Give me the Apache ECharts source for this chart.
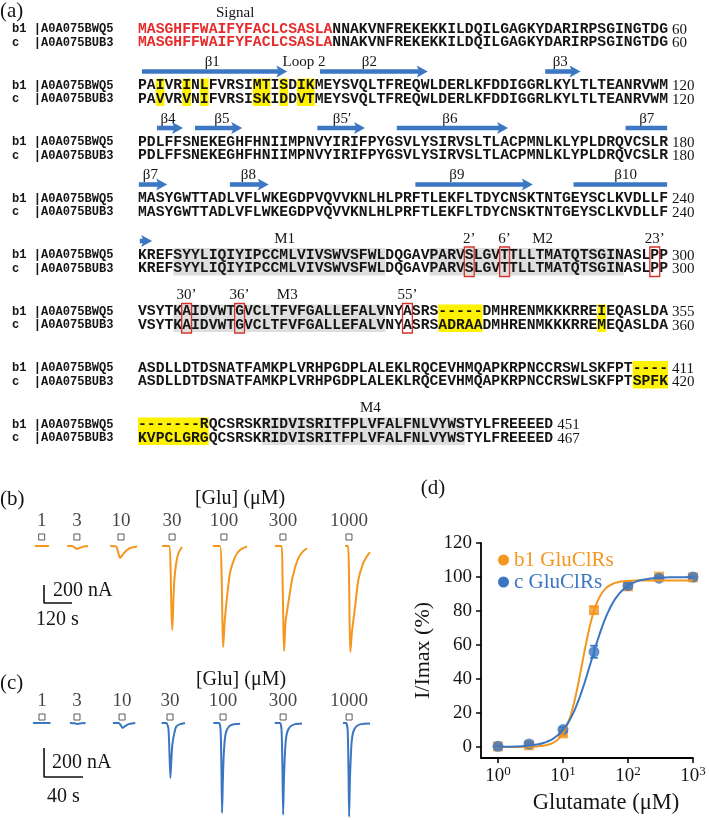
<!DOCTYPE html>
<html><head><meta charset="utf-8">
<script src="https://cdn.jsdelivr.net/npm/echarts@6/dist/echarts.min.js"></script>
<style>html,body{margin:0;padding:0;background:#fff}#c{width:709px;height:820px}</style>
</head><body><div id="c"></div>
<script>
// ---------------- Panel (a): alignment data ----------------
const seqNames = ['b1 |A0A075BWQ5', 'c  |A0A075BUB3'];
const seqB1 = [
 'MASGHFFWAIFYFACLCSASLANNAKVNFREKEKKILDQILGAGKYDARIRPSGINGTDG',
 'PAIVRINLFVRSIMTISDIKMEYSVQLTFREQWLDERLKFDDIGGRLKYLTLTEANRVWM',
 'PDLFFSNEKEGHFHNIIMPNVYIRIFPYGSVLYSIRVSLTLACPMNLKLYPLDRQVCSLR',
 'MASYGWTTADLVFLWKEGDPVQVVKNLHLPRFTLEKFLTDYCNSKTNTGEYSCLKVDLLF',
 'KREFSYYLIQIYIPCCMLVIVSWVSFWLDQGAVPARVSLGVTTLLTMATQTSGINASLPP',
 'VSYTKAIDVWTGVCLTFVFGALLEFALVNYASRS-----DMHRENMKKKRREIEQASLDA',
 'ASDLLDTDSNATFAMKPLVRHPGDPLALEKLRQCEVHMQAPKRPNCCRSWLSKFPT----',
 '-------RQCSRSKRIDVISRITFPLVFALFNLVYWSTYLFREEEED'
];
const seqC = [
 'MASGHFFWAIFYFACLCSASLANNAKVNFREKEKKILDQILGAGKYDARIRPSGINGTDG',
 'PAVVRVNIFVRSISKIDDVTMEYSVQLTFREQWLDERLKFDDIGGRLKYLTLTEANRVWM',
 'PDLFFSNEKEGHFHNIIMPNVYIRIFPYGSVLYSIRVSLTLACPMNLKLYPLDRQVCSLR',
 'MASYGWTTADLVFLWKEGDPVQVVKNLHLPRFTLEKFLTDYCNSKTNTGEYSCLKVDLLF',
 'KREFSYYLIQIYIPCCMLVIVSWVSFWLDQGAVPARVSLGVTTLLTMATQTSGINASLPP',
 'VSYTKAIDVWTGVCLTFVFGALLEFALVNYASRSADRAADMHRENMKKKRREMEQASLDA',
 'ASDLLDTDSNATFAMKPLVRHPGDPLALEKLRQCEVHMQAPKRPNCCRSWLSKFPTSPFK',
 'KVPCLGRGQCSRSKRIDVISRITFPLVFALFNLVYWSTYLFREEEED'
];
const endB1 = [60, 120, 180, 240, 300, 355, 411, 451];
const endC  = [60, 120, 180, 240, 300, 360, 420, 467];
const signalLen = 22;
// [row, startCol, endCol)
const yellowHL = [[1,2,3],[1,5,6],[1,7,8],[1,13,15],[1,16,17],[1,18,20],[5,34,39],[5,52,53],[6,56,60],[7,0,8]];
const grayHL = [[4,4,28],[4,33,55],[5,4,28],[7,14,37]];
// [row, col]
const redBoxes = [[4,37],[4,41],[4,58],[5,5],[5,11],[5,30]];
// secondary-structure labels [row, centerCol, text]
const betaLabels = [[1,8.4,'β1'],[1,18.8,'Loop 2'],[1,26.2,'β2'],[1,47.8,'β3'],
  [2,3.4,'β4'],[2,9.5,'β5'],[2,23.1,'β5\u2032'],[2,35.3,'β6'],[2,57.6,'β7'],
  [3,1.4,'β7'],[3,12.5,'β8'],[3,36.1,'β9'],[3,55.2,'β10']];
const markLabels = [[0,11,'Signal'],[4,16.6,'M1'],[4,37.5,'2\u2019'],[4,41.5,'6\u2019'],[4,45.8,'M2'],[4,58.5,'23\u2019'],
  [5,5.5,'30\u2019'],[5,11.5,'36\u2019'],[5,16.9,'M3'],[5,30.5,'55\u2019'],[7,26.3,'M4']];
// arrows [row, startCol, endCol, hasHead]
const strands = [[1,0.45,16.9,1],[1,20.6,32.8,1],[1,46.1,50.1,1],
  [2,2.15,5.1,1],[2,6.45,11.8,1],[2,20.3,25.7,1],[2,29.3,41.9,1],[2,55.2,59.9,0],
  [3,0.1,3.3,1],[3,10.4,14.8,1],[3,31.4,44.7,1],[3,49.3,59.9,0],
  [4,0.2,1.6,1]];

// ---------------- Panel (b)/(c): current traces [time s, current nA] ----------------
const concLabels = ['1','3','10','30','100','300','1000'];
const tracesB = [
 [[21,0],[81,0]],
 [[159,0],[180,0],[193,-20],[201,-33],[214,-20],[231,-5],[249,0]],
 [[343,0],[369,-5],[377,-60],[386,-133],[399,-90],[416,-45],[433,-20],[459,-5]],
 [[566,0],[596,0],[602,-200],[606,-700],[610,-933],[614,-650],[618,-400],[626,-200],[636,-80],[651,-10]],
 [[784,0],[814,0],[821,-300],[825,-900],[828,-1122],[834,-850],[843,-600],[857,-300],[879,-120],[900,-45],[930,-5]],
 [[1050,0],[1078,0],[1082,-300],[1086,-900],[1089,-1167],[1095,-850],[1106,-650],[1125,-350],[1149,-140],[1170,-60],[1187,-25]],
 [[1350,0],[1363,0],[1367,-300],[1370,-900],[1373,-1178],[1380,-950],[1393,-680],[1407,-380],[1428,-190],[1445,-110],[1457,-67]]
];
const appB = [50, 201, 390, 609, 831, 1084, 1367];
const tracesC = [
 [[3,0],[21,0]],
 [[41,0],[46,-2],[48,-7],[51,-4],[57,0]],
 [[85,0],[91,0],[93,-15],[95,-34],[98,-20],[101,-8],[108,0]],
 [[135,0],[140,0],[142,-40],[143,-200],[144,-379],[145,-250],[146,-150],[148,-70],[150,-25],[154,-8],[159,0]],
 [[188,0],[194,0],[195.5,-50],[196.3,-300],[197,-621],[197.8,-400],[198.5,-250],[199.6,-130],[201,-65],[204,-25],[208,-10],[215.5,-5]],
 [[251,0],[256.5,0],[258,-50],[258.9,-300],[259.6,-634],[260.4,-400],[261.2,-250],[262.2,-130],[263.7,-65],[266.8,-25],[272,-8],[279,-4]],
 [[321,0],[324.2,0],[325.8,-50],[326.6,-300],[327.3,-648],[328.1,-400],[328.9,-250],[329.9,-130],[331.4,-65],[334.5,-25],[339.6,-8],[348.8,-4]]
];
const appC = [12.3, 48.2, 94.4, 143.6, 198.0, 259.6, 327.3];
const scaleB = {nA: 200, s: 120};
const scaleC = {nA: 200, s: 40};

// ---------------- Panel (d): dose response ----------------
const conc = [1, 3, 10, 30, 100, 300, 1000];
const b1Mean = [0.3, 1.0, 8.0, 80.5, 94.5, 100.2, 99.8];
const b1Err  = [0.3, 0.5, 1.5, 2.0, 1.5, 0.5, 0.5];
const cMean  = [0.4, 1.8, 10.2, 56.0, 95.0, 99.3, 100.0];
const cErr   = [0.3, 0.8, 1.5, 3.6, 1.5, 0.5, 0.3];
const fitConc = [1,2,3,4,5,6,7,8,9,10,12,14,16,18,20,22,25,28,32,36,40,45,50,60,70,85,100,130,170,220,300,450,700,1000];
const b1Fit = [0.0,0.0,0.1,0.3,0.7,1.4,2.4,3.8,5.7,8.1,14.3,22.4,31.6,41.2,50.3,58.5,68.6,76.2,83.2,87.7,90.7,93.1,94.6,96.2,96.9,97.5,97.7,97.9,97.95,98.0,98.0,98.0,98.0,98.0];
const cFit  = [0.1,0.3,0.8,1.4,2.3,3.5,4.8,6.4,8.1,10.0,14.3,19.0,24.0,29.1,34.1,39.0,46.0,52.2,59.5,65.6,70.7,75.8,79.8,85.6,89.3,92.8,94.9,97.1,98.4,99.1,99.5,99.8,99.9,100.0];
const yTicks = [0, 20, 40, 60, 80, 100, 120];

// ---------------- styles ----------------
const ORANGE = '#f5961f', BLUE = '#3b76c2', ARROW = '#3b77c3', RED = '#e52b2b', INK = '#151515';
const SERIF = '"Liberation Serif", "Times New Roman", serif';
const MONO = '"Liberation Mono", "Courier New", monospace';

function txt(text, x, y, font, fill, align) {
  return {type: 'text', x: x, y: y, style: {text: text, fill: fill || INK, font: font,
    align: align || 'left', verticalAlign: 'middle', textAlign: align || 'left', textVerticalAlign: 'middle'}};
}

function renderAlignment(params, api) {
  const o = api.coord([0, 0]);
  const cw = api.coord([1, 0])[0] - o[0];
  const X = c => o[0] + c * cw;
  const Y = r => api.coord([0, r])[1];
  const cOff = 13.5;
  const seqFont = 'bold 14.72px ' + MONO;
  const nameFont = 'bold 12.1px ' + MONO;
  const numFont = '15px ' + SERIF;
  const lblFont = '15px ' + SERIF;
  const ch = [];
  grayHL.forEach(h => ch.push({type: 'rect', shape: {x: X(h[1]), y: Y(h[0]) - 7, width: (h[2] - h[1]) * cw, height: cOff + 14}, style: {fill: '#dedede'}}));
  yellowHL.forEach(h => ch.push({type: 'rect', shape: {x: X(h[1]), y: Y(h[0]) - 7, width: (h[2] - h[1]) * cw, height: cOff + 14}, style: {fill: '#fff200'}}));
  for (let r = 0; r < seqB1.length; r++) {
    const y1 = Y(r), y2 = Y(r) + cOff;
    ch.push(txt(seqNames[0], X(-14.27), y1, nameFont, INK));
    ch.push(txt(seqNames[1], X(-14.27), y2, nameFont, INK));
    if (r === 0) {
      ch.push(txt(seqB1[r].slice(0, signalLen), X(0), y1, seqFont, RED));
      ch.push(txt(seqB1[r].slice(signalLen), X(signalLen), y1, seqFont, INK));
      ch.push(txt(seqC[r].slice(0, signalLen), X(0), y2, seqFont, RED));
      ch.push(txt(seqC[r].slice(signalLen), X(signalLen), y2, seqFont, INK));
    } else {
      ch.push(txt(seqB1[r], X(0), y1, seqFont, INK));
      ch.push(txt(seqC[r], X(0), y2, seqFont, INK));
    }
    ch.push(txt(String(endB1[r]), X(seqB1[r].length) + 4, y1 + 1, numFont, INK));
    ch.push(txt(String(endC[r]), X(seqC[r].length) + 4, y2 + 1, numFont, INK));
  }
  redBoxes.forEach(b => ch.push({type: 'rect', shape: {x: X(b[1]) - 0.5, y: Y(b[0]) - 8, width: cw + 1, height: cOff + 16},
    style: {fill: 'none', stroke: '#d8312b', lineWidth: 1.3}}));
  betaLabels.forEach(l => ch.push(txt(l[2], X(l[1]), Y(l[0]) - 23, lblFont, INK, 'center')));
  markLabels.forEach(l => ch.push(txt(l[2], X(l[1]), Y(l[0]) - 16, lblFont, INK, 'center')));
  strands.forEach(s => {
    const y = Y(s[0]) - 14, x1 = X(s[1]), x2 = X(s[2]);
    if (s[3]) {
      ch.push({type: 'rect', shape: {x: x1, y: y - 2.3, width: Math.max(0, x2 - x1 - 8), height: 4.6}, style: {fill: ARROW}});
      ch.push({type: 'polygon', shape: {points: [[x2 - 11, y - 6], [x2, y], [x2 - 11, y + 6], [x2 - 8.5, y]]}, style: {fill: ARROW}});
    } else {
      ch.push({type: 'rect', shape: {x: x1, y: y - 2.3, width: x2 - x1, height: 4.6}, style: {fill: ARROW}});
    }
  });
  return {type: 'group', children: ch};
}

function renderErr(color, errs) {
  return function (params, api) {
    const x = api.value(0), m = api.value(1), e = errs[params.dataIndex];
    const top = api.coord([x, m + e]), bot = api.coord([x, m - e]);
    const st = {stroke: color, lineWidth: 1.6};
    return {type: 'group', children: [
      {type: 'line', shape: {x1: top[0], y1: top[1], x2: bot[0], y2: bot[1]}, style: st},
      {type: 'line', shape: {x1: top[0] - 4, y1: top[1], x2: top[0] + 4, y2: top[1]}, style: st},
      {type: 'line', shape: {x1: bot[0] - 4, y1: bot[1], x2: bot[0] + 4, y2: bot[1]}, style: st}
    ]};
  };
}

const hiddenAxis = (idx, min, max, extra) => Object.assign({type: 'value', gridIndex: idx, min: min, max: max, show: false}, extra || {});

const series = [];
// (a)
series.push({type: 'custom', xAxisIndex: 0, yAxisIndex: 0, data: [[0, 0]], renderItem: renderAlignment, silent: true, clip: false});
// (b)
tracesB.forEach(t => series.push({type: 'line', xAxisIndex: 1, yAxisIndex: 1, data: t, symbol: 'none', smooth: 0.2,
  lineStyle: {color: ORANGE, width: 2}, silent: true}));
series.push({type: 'scatter', xAxisIndex: 1, yAxisIndex: 1, data: appB.map(t => [t, 100]), symbol: 'rect', symbolSize: 6,
  itemStyle: {color: '#fff', borderColor: '#333', borderWidth: 1},
  label: {show: true, position: 'top', distance: 3, formatter: p => concLabels[p.dataIndex], fontFamily: SERIF, fontSize: 19, color: INK}});
series.push({type: 'line', xAxisIndex: 1, yAxisIndex: 1, symbol: 'none', lineStyle: {color: '#111', width: 1.6},
  data: [[60, -633 + scaleB.nA], [60, -633], [60 + scaleB.s, -633]]});
// (c)
tracesC.forEach(t => series.push({type: 'line', xAxisIndex: 2, yAxisIndex: 2, data: t, symbol: 'none', smooth: 0.2,
  lineStyle: {color: BLUE, width: 2}, silent: true}));
series.push({type: 'scatter', xAxisIndex: 2, yAxisIndex: 2, data: appC.map(t => [t, 41]), symbol: 'rect', symbolSize: 6,
  itemStyle: {color: '#fff', borderColor: '#333', borderWidth: 1},
  label: {show: true, position: 'top', distance: 3, formatter: p => concLabels[p.dataIndex], fontFamily: SERIF, fontSize: 19, color: INK}});
series.push({type: 'line', xAxisIndex: 2, yAxisIndex: 2, symbol: 'none', lineStyle: {color: '#111', width: 1.6},
  data: [[14.4, -373 + scaleC.nA], [14.4, -373], [14.4 + scaleC.s, -373]]});
// (d)
series.push({name: 'b1 GluClRs', type: 'line', xAxisIndex: 3, yAxisIndex: 3, data: fitConc.map((x, i) => [x, b1Fit[i]]),
  symbol: 'none', smooth: true, lineStyle: {color: ORANGE, width: 2}, itemStyle: {color: ORANGE}});
series.push({name: 'c GluClRs', type: 'line', xAxisIndex: 3, yAxisIndex: 3, data: fitConc.map((x, i) => [x, cFit[i]]),
  symbol: 'none', smooth: true, lineStyle: {color: BLUE, width: 2}, itemStyle: {color: BLUE}});
series.push({type: 'custom', xAxisIndex: 3, yAxisIndex: 3, data: conc.map((x, i) => [x, b1Mean[i]]), renderItem: renderErr(ORANGE, b1Err)});
series.push({type: 'custom', xAxisIndex: 3, yAxisIndex: 3, data: conc.map((x, i) => [x, cMean[i]]), renderItem: renderErr(BLUE, cErr)});
series.push({name: 'b1 GluClRs', type: 'scatter', xAxisIndex: 3, yAxisIndex: 3, data: conc.map((x, i) => [x, b1Mean[i]]),
  symbol: 'rect', symbolSize: 10, itemStyle: {color: ORANGE}});
series.push({name: 'c GluClRs', type: 'scatter', xAxisIndex: 3, yAxisIndex: 3, data: conc.map((x, i) => [x, cMean[i]]),
  symbol: 'circle', symbolSize: 11, itemStyle: {color: BLUE}});

const supFmt = v => '{b|10}{s|' + Math.round(Math.log10(v)) + '}';

const option = {
  animation: false,
  backgroundColor: '#fff',
  textStyle: {fontFamily: SERIF},
  grid: [
    {left: 138, top: 0.75, width: 530, height: 480.25, show: false, outerBoundsMode: 'none'},
    {left: 30, top: 501, width: 350, height: 162, show: false, outerBoundsMode: 'none'},
    {left: 30, top: 679.5, width: 351, height: 142, show: false, outerBoundsMode: 'none'},
    {left: 481.1, top: 543, width: 211.9, height: 215, show: false, outerBoundsMode: 'none'}
  ],
  xAxis: [
    hiddenAxis(0, 0, 60),
    hiddenAxis(1, 0, 1500),
    hiddenAxis(2, 0, 360),
    {type: 'log', logBase: 10, gridIndex: 3, min: 0.55, max: 1000,
      axisLine: {onZero: false, lineStyle: {color: '#000', width: 1.8}},
      axisTick: {length: 5, lineStyle: {color: '#000', width: 1.5}},
      minorTick: {show: false}, splitLine: {show: false},
      axisLabel: {showMinLabel: false, margin: 7, formatter: supFmt, color: INK,
        rich: {b: {fontFamily: SERIF, fontSize: 19, color: INK}, s: {fontFamily: SERIF, fontSize: 13, color: INK, padding: [0, 0, 9, 0]}}},
      name: 'Glutamate (\u03bcM)', nameLocation: 'middle', nameGap: 34,
      nameTextStyle: {fontFamily: SERIF, fontSize: 22.5, color: INK, padding: [0, 0, 0, 38]}}
  ],
  yAxis: [
    hiddenAxis(0, -0.5, 8, {inverse: true}),
    hiddenAxis(1, -1300, 500),
    hiddenAxis(2, -680, 300),
    {type: 'value', gridIndex: 3, min: -6.5, max: 120,
      axisLine: {show: true, onZero: false, lineStyle: {color: '#000', width: 1.8}},
      axisTick: {show: true, length: 5, lineStyle: {color: '#000', width: 1.5}, customValues: yTicks},
      splitLine: {show: false},
      axisLabel: {customValues: yTicks, margin: 9, fontFamily: SERIF, fontSize: 19, color: INK},
      name: 'I/Imax (%)', nameLocation: 'middle', nameGap: 47,
      nameTextStyle: {fontFamily: SERIF, fontSize: 22, color: INK}}
  ],
  legend: {left: 493, top: 544, orient: 'vertical', icon: 'circle', itemWidth: 11, itemHeight: 11, itemGap: 0,
    selectedMode: false,
    textStyle: {fontFamily: SERIF, fontSize: 21, lineHeight: 22},
    data: [{name: 'b1 GluClRs', textStyle: {color: ORANGE}}, {name: 'c GluClRs', textStyle: {color: BLUE}}]},
  graphic: [
    txt('(a)', 0, 11, '21px ' + SERIF),
    txt('(b)', 0, 499, '21px ' + SERIF),
    txt('[Glu] (\u03bcM)', 240, 499, '20px ' + SERIF, INK, 'center'),
    txt('200 nA', 53, 591, '20px ' + SERIF),
    txt('120 s', 36, 620, '20px ' + SERIF),
    txt('(c)', 0, 683, '21px ' + SERIF),
    txt('[Glu] (\u03bcM)', 241, 680, '20px ' + SERIF, INK, 'center'),
    txt('200 nA', 52, 763, '20px ' + SERIF),
    txt('40 s', 47, 797, '20px ' + SERIF),
    txt('(d)', 433, 488, '21px ' + SERIF, INK, 'center')
  ],
  series: series
};
const chart = echarts.init(document.getElementById('c'), null, {renderer: 'canvas'});
chart.setOption(option);
</script>
</body></html>
